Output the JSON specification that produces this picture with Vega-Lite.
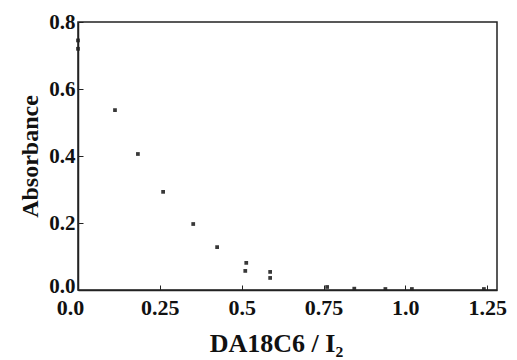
{
  "$schema": "https://vega.github.io/schema/vega-lite/v6.json",
  "width": 419,
  "height": 268,
  "autosize": {"type": "none"},
  "padding": {"left": 78, "top": 22, "right": 20, "bottom": 70},
  "background": "white",
  "data": {
    "values": [
      {"ratio": 0.0, "absorbance": 0.745},
      {"ratio": 0.0, "absorbance": 0.72},
      {"ratio": 0.113, "absorbance": 0.537},
      {"ratio": 0.183, "absorbance": 0.406},
      {"ratio": 0.26, "absorbance": 0.293},
      {"ratio": 0.352, "absorbance": 0.197},
      {"ratio": 0.425, "absorbance": 0.128},
      {"ratio": 0.514, "absorbance": 0.081},
      {"ratio": 0.511, "absorbance": 0.057},
      {"ratio": 0.587, "absorbance": 0.054},
      {"ratio": 0.587, "absorbance": 0.036},
      {"ratio": 0.761, "absorbance": 0.009},
      {"ratio": 0.844, "absorbance": 0.004},
      {"ratio": 0.939, "absorbance": 0.003},
      {"ratio": 1.02, "absorbance": 0.003},
      {"ratio": 1.24, "absorbance": 0.003}
    ]
  },
  "mark": {"type": "square", "size": 14, "color": "#222", "opacity": 0.9},
  "encoding": {
    "x": {
      "field": "ratio",
      "type": "quantitative",
      "scale": {"domain": [0, 1.28], "nice": false, "zero": false},
      "axis": {
        "values": [0, 0.25, 0.5, 0.75, 1.0, 1.25],
        "labelExpr": "datum.value == 0 ? '0.0' : datum.value == 1 ? '1.0' : format(datum.value, '.2~f')",
        "labelFlush": false,
        "labelOffset": {"condition": {"test": "datum.value == 0", "value": -8}, "value": 0},
        "title": "DA18C6 / I₂",
        "grid": false,
        "tickSize": -5,
        "domainColor": "#222",
        "tickColor": "#222",
        "labelFont": "Liberation Serif",
        "labelFontWeight": "bold",
        "labelFontSize": 22,
        "labelColor": "#111",
        "labelPadding": 12,
        "titleFont": "Liberation Serif",
        "titleFontWeight": "bold",
        "titleFontSize": 26,
        "titleColor": "#111",
        "titlePadding": 12,
        "titleX": 198
      }
    },
    "y": {
      "field": "absorbance",
      "type": "quantitative",
      "scale": {"domain": [0, 0.8], "nice": false},
      "axis": {
        "values": [0, 0.2, 0.4, 0.6, 0.8],
        "format": ".1f",
        "labelFlush": false,
        "labelOffset": {"condition": {"test": "datum.value == 0", "value": -4}, "value": 0},
        "title": "Absorbance",
        "grid": false,
        "tickSize": -5,
        "domainColor": "#222",
        "tickColor": "#222",
        "labelFont": "Liberation Serif",
        "labelFontWeight": "bold",
        "labelFontSize": 21,
        "labelColor": "#111",
        "labelPadding": 8,
        "titleFont": "Liberation Serif",
        "titleFontWeight": "bold",
        "titleFontSize": 24,
        "titleColor": "#111",
        "titlePadding": 6
      }
    }
  },
  "config": {
    "view": {"stroke": "#222", "strokeWidth": 1.5},
    "axis": {"domainWidth": 1.5}
  }
}
